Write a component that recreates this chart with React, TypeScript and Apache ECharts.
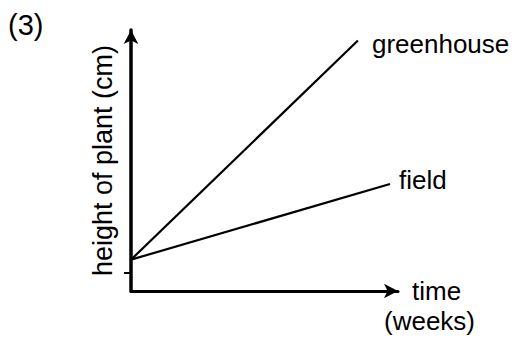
import React, { useEffect, useRef } from "react";
import * as echarts from "echarts";

const greenhouseWeeks = [0, 8.5];
const greenhouseHeight = [1.2, 9.6];
const fieldWeeks = [0, 9.7];
const fieldHeight = [1.2, 4.1];
const yTickValues = [0.7];
const seriesNames = ["greenhouse", "field"];
const panelLabel = "(3)";
const xName = "time";
const xUnit = "(weeks)";
const yName = "height of plant (cm)";

const FONT = "'Liberation Sans', Arial, sans-serif";

function pairs(xs: number[], ys: number[]) {
  return xs.map((x, i) => [x, ys[i]]);
}

export default function App() {
  const ref = useRef<HTMLDivElement>(null);
  useEffect(() => {
    if (!ref.current) return;
    const chart = echarts.init(ref.current, null, { renderer: "svg" });
    const axisLineStyle = { color: "#000", width: 3 };
    chart.setOption({
      animation: false,
      backgroundColor: "#fff",
      textStyle: { fontFamily: FONT, color: "#000" },
      grid: { left: 131, right: 118, top: 30, bottom: 47 },
      xAxis: {
        type: "value",
        min: 0,
        max: 10,
        name: xName,
        nameLocation: "end",
        nameGap: 14,
        nameTextStyle: { fontFamily: FONT, fontSize: 26, color: "#000" },
        axisLine: { show: true, lineStyle: axisLineStyle, symbol: ["none", "arrow"], symbolSize: [11, 14] },
        axisTick: { show: false },
        axisLabel: { show: false },
        splitLine: { show: false },
      },
      yAxis: {
        type: "value",
        min: 0,
        max: 10,
        name: yName,
        nameLocation: "middle",
        nameRotate: 90,
        nameGap: 15,
        nameTextStyle: { fontFamily: FONT, fontSize: 27, color: "#000" },
        axisLine: { show: true, lineStyle: { color: "#000", width: 3.5 }, symbol: ["none", "arrow"], symbolSize: [11, 14] },
        axisTick: { show: true, customValues: yTickValues, length: 7, lineStyle: { color: "#000", width: 2 } },
        axisLabel: { show: false },
        splitLine: { show: false },
      },
      graphic: [
        {
          type: "text",
          left: 8,
          top: 10,
          style: { text: panelLabel, fontFamily: FONT, fontSize: 29, fill: "#000" },
        },
        {
          type: "text",
          left: 384,
          top: 308,
          style: { text: xUnit, fontFamily: FONT, fontSize: 26, fill: "#000" },
        },
      ],
      series: [
        {
          name: seriesNames[0],
          type: "line",
          data: pairs(greenhouseWeeks, greenhouseHeight),
          symbol: "none",
          lineStyle: { color: "#000", width: 2.2 },
          endLabel: {
            show: true,
            formatter: "{a}",
            distance: 0,
            offset: [14, 4],
            fontFamily: FONT,
            fontSize: 26,
            color: "#000",
          },
        },
        {
          name: seriesNames[1],
          type: "line",
          data: pairs(fieldWeeks, fieldHeight),
          symbol: "none",
          lineStyle: { color: "#000", width: 2.2 },
          endLabel: {
            show: true,
            formatter: "{a}",
            distance: 0,
            offset: [9, -4],
            fontFamily: FONT,
            fontSize: 26,
            color: "#000",
          },
        },
      ],
    });
    return () => chart.dispose();
  }, []);
  return (
    <div
      ref={ref}
      style={{ position: "absolute", left: 0, top: 0, width: 516, height: 338 }}
    />
  );
}
